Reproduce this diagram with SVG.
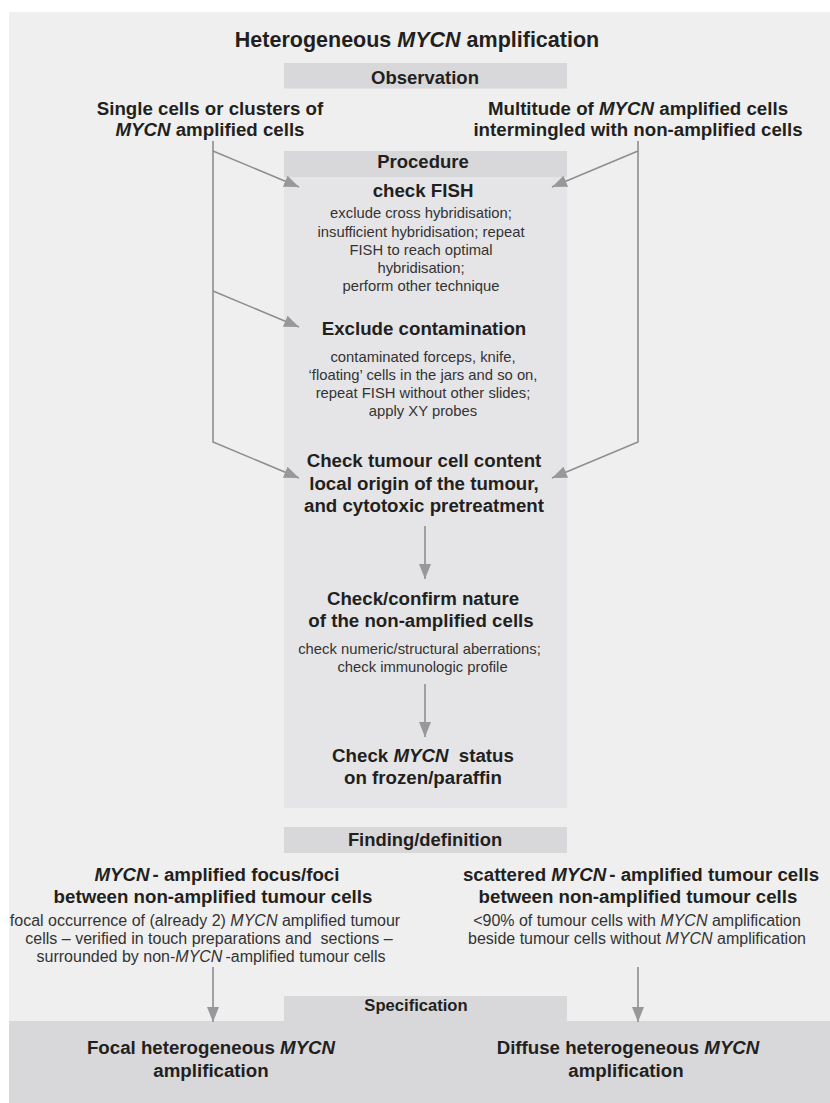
<svg xmlns="http://www.w3.org/2000/svg" width="830" height="1103" viewBox="0 0 830 1103">
<style>
text{font-family:"Liberation Sans",Arial,Helvetica,sans-serif;text-anchor:middle;}
.b{font-weight:bold;fill:#231f20;font-size:18.7px;}
.s{fill:#333;font-size:14.8px;}
.m{fill:#333;font-size:16px;}
.i{font-style:italic;}
.hdr{fill:#d8d8da;}
.con{fill:none;stroke:#8e8e90;stroke-width:1.6;}
</style>
<defs>
<marker id="ah" viewBox="0 0 15 12" refX="15" refY="6" markerWidth="15" markerHeight="12" markerUnits="userSpaceOnUse" orient="auto">
<path d="M0,0 L15,6 L0,12 Z" fill="#98989a"/>
</marker>
</defs>
<rect x="9" y="12" width="821" height="1091" fill="#efefef"/>
<g id="title">
<text class="b" x="417" y="47" style="font-size:21.5px">Heterogeneous <tspan class="i">MYCN</tspan> amplification</text>
</g>
<g id="observation">
<rect class="hdr" x="284" y="63" width="283" height="25.5"/>
<text class="b" x="425" y="83.5" style="font-size:18.5px">Observation</text>
</g>
<g id="obs-left">
<text class="b" x="210" y="114.7">Single cells or clusters of</text>
<text class="b" x="210" y="136"><tspan class="i">MYCN</tspan> amplified cells</text>
</g>
<g id="obs-right">
<text class="b" x="638" y="114.7">Multitude of <tspan class="i">MYCN</tspan> amplified cells</text>
<text class="b" x="638" y="136">intermingled with non-amplified cells</text>
</g>
<g id="procedure">
<rect x="284" y="151" width="283" height="657" fill="#e5e5e7"/>
<rect class="hdr" x="284" y="151" width="283" height="26"/>
<text class="b" x="423" y="168" style="font-size:18.5px">Procedure</text>
</g>
<g id="check-fish">
<text class="b" x="423" y="197">check FISH</text>
<text class="s" x="421" y="218.3">exclude cross hybridisation;</text>
<text class="s" x="421" y="236.5">insufficient hybridisation; repeat</text>
<text class="s" x="421" y="254.5">FISH to reach optimal</text>
<text class="s" x="421" y="272.5">hybridisation;</text>
<text class="s" x="421" y="290.7">perform other technique</text>
</g>
<g id="exclude-contamination">
<text class="b" x="424" y="335">Exclude contamination</text>
<text class="s" x="423" y="361.7">contaminated forceps, knife,</text>
<text class="s" x="423" y="379.5">‘floating’ cells in the jars and so on,</text>
<text class="s" x="423" y="397.5">repeat FISH without other slides;</text>
<text class="s" x="423" y="415.5">apply XY probes</text>
</g>
<g id="check-tumour">
<text class="b" x="424" y="466.7">Check tumour cell content</text>
<text class="b" x="424" y="489.5">local origin of the tumour,</text>
<text class="b" x="424" y="512">and cytotoxic pretreatment</text>
</g>
<g id="check-confirm">
<text class="b" x="423" y="605">Check/confirm nature</text>
<text class="b" x="421" y="627.3">of the non-amplified cells</text>
<text class="s" x="419.5" y="654.3">check numeric/structural aberrations;</text>
<text class="s" x="422.5" y="672.3">check immunologic profile</text>
</g>
<g id="check-mycn">
<text class="b" x="423" y="762.3" xml:space="preserve">Check <tspan class="i">MYCN</tspan>  status</text>
<text class="b" x="423" y="784.3">on frozen/paraffin</text>
</g>
<g id="finding">
<rect class="hdr" x="284" y="827" width="283" height="26"/>
<text class="b" x="425" y="846" style="font-size:18.4px">Finding/definition</text>
</g>
<g id="finding-left">
<text class="b" x="217" y="881"><tspan class="i">MYCN</tspan><tspan dx="3">- amplified focus/foci</tspan></text>
<text class="b" x="213" y="903.3">between non-amplified tumour cells</text>
<text class="m" x="205" y="926">focal occurrence of (already 2) <tspan class="i">MYCN</tspan> amplified tumour</text>
<text class="m" x="209" y="944.3" xml:space="preserve">cells – verified in touch preparations and  sections –</text>
<text class="m" x="211" y="962.3">surrounded by non-<tspan class="i">MYCN</tspan><tspan dx="3">-amplified tumour cells</tspan></text>
</g>
<g id="finding-right">
<text class="b" x="641" y="881">scattered <tspan class="i">MYCN</tspan><tspan dx="3">- amplified tumour cells</tspan></text>
<text class="b" x="638" y="903.3">between non-amplified tumour cells</text>
<text class="m" x="637" y="926">&lt;90% of tumour cells with <tspan class="i">MYCN</tspan> amplification</text>
<text class="m" x="637" y="944.3">beside tumour cells without <tspan class="i">MYCN</tspan> amplification</text>
</g>
<g id="specification">
<path class="hdr" d="M9,1021 H284 V996 H567 V1021 H830 V1103 H9 Z"/>
<text class="b" x="416" y="1011" style="font-size:16.6px">Specification</text>
</g>
<g id="spec-focal">
<text class="b" x="211" y="1054">Focal heterogeneous <tspan class="i">MYCN</tspan></text>
<text class="b" x="211" y="1077">amplification</text>
</g>
<g id="spec-diffuse">
<text class="b" x="628" y="1054">Diffuse heterogeneous <tspan class="i">MYCN</tspan></text>
<text class="b" x="626" y="1077">amplification</text>
</g>
<g id="connectors">
<path class="con" d="M213,151 L299,187" marker-end="url(#ah)"/>
<path class="con" d="M213,291 L299,327" marker-end="url(#ah)"/>
<path class="con" d="M213,141 V442 L299,478" marker-end="url(#ah)"/>
<path class="con" d="M638,151 L552,187" marker-end="url(#ah)"/>
<path class="con" d="M638,141 V442 L552,478" marker-end="url(#ah)"/>
<path class="con" d="M425,526 V579" marker-end="url(#ah)"/>
<path class="con" d="M425,684 V737" marker-end="url(#ah)"/>
<path class="con" d="M213,967 V1022" marker-end="url(#ah)"/>
<path class="con" d="M638,967 V1022" marker-end="url(#ah)"/>
</g>
</svg>
